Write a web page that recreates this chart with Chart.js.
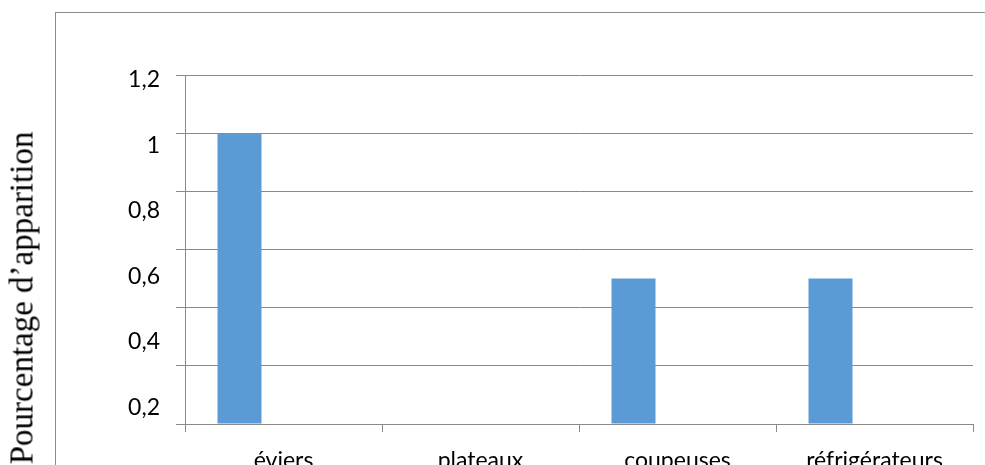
<!DOCTYPE html>
<html lang="fr">
<head>
    <meta charset="UTF-8">
    <title>Pourcentage d'apparition</title>
    <script src="https://cdn.jsdelivr.net/npm/chart.js@4.4.1/dist/chart.umd.min.js"></script>
    <style>
        html, body {
            margin: 0;
            padding: 0;
            background: #fff;
            overflow: hidden;
        }
        .wrap {
            position: relative;
            width: 985px;
            height: 500px;
        }
        .frame {
            position: absolute;
            left: 55px;
            top: 12px;
            width: 1000px;
            height: 600px;
            border-left: 1px solid #8c8c8c;
            border-top: 1px solid #8c8c8c;
            pointer-events: none;
        }
        .ytitle {
            position: absolute;
            left: 22px;
            top: 298px;
            transform: translate(-50%, -50%) rotate(-90deg);
            font-family: "Liberation Serif", "Times New Roman", serif;
            font-size: 33px;
            line-height: 1;
            white-space: nowrap;
            color: #000;
        }
    </style>
</head>
<body>
    <div class="wrap">
        <canvas id="chart"></canvas>
        <div class="frame"></div>
        <div class="ytitle">Pourcentage d’apparition</div>
    </div>

    <script>
        // categories and values
        const categories = ['éviers', 'plateaux', 'coupeuses', 'réfrigérateurs'];
        const serie1 = [1, 0, 0.5, 0.5];
        const serie2 = [null, null, null, null];
        const serie3 = [null, null, null, null];
        // tick labels as printed on the left (they sit off the gridlines)
        const yLabels = [0.2, 0.4, 0.6, 0.8, 1, 1.2];

        const gridColor = '#898989';
        const tickFont = { family: 'Lato', size: 23 };

        new Chart(document.getElementById('chart'), {
            type: 'bar',
            data: {
                labels: categories,
                datasets: [
                    { label: 'Série 1', data: serie1, backgroundColor: '#5b9bd5' },
                    { label: 'Série 2', data: serie2, backgroundColor: '#ed7d31' },
                    { label: 'Série 3', data: serie3, backgroundColor: '#a5a5a5' }
                ]
            },
            options: {
                responsive: true,
                maintainAspectRatio: false,
                animation: false,
                categoryPercentage: 0.67,
                barPercentage: 1,
                layout: {
                    padding: { left: 125, right: 12, top: 75, bottom: 16 }
                },
                plugins: {
                    legend: { display: false },
                    tooltip: { enabled: false }
                },
                scales: {
                    x: {
                        grid: {
                            offset: true,
                            drawOnChartArea: false,
                            color: gridColor,
                            tickLength: 8
                        },
                        border: { color: gridColor },
                        ticks: { font: tickFont, color: '#000', padding: 15 },
                        afterFit: s => { s.height = 60; }
                    },
                    y: {
                        weight: 0,
                        min: 0,
                        max: 1.2,
                        ticks: { stepSize: 0.2, display: false },
                        grid: { color: gridColor, tickLength: 9 },
                        border: { color: gridColor },
                        afterFit: s => { s.width = 9; }
                    },
                    y2: {
                        position: 'left',
                        weight: 1,
                        min: 0.1497,
                        max: 1.2137,
                        grid: { display: false, drawTicks: false },
                        border: { display: false },
                        ticks: {
                            font: tickFont,
                            color: '#000',
                            padding: 16,
                            callback: v => String(v).replace('.', ',')
                        },
                        afterBuildTicks: s => { s.ticks = yLabels.map(v => ({ value: v })); },
                        afterFit: s => { s.width = 51; }
                    }
                }
            }
        });
    </script>
</body>
</html>
